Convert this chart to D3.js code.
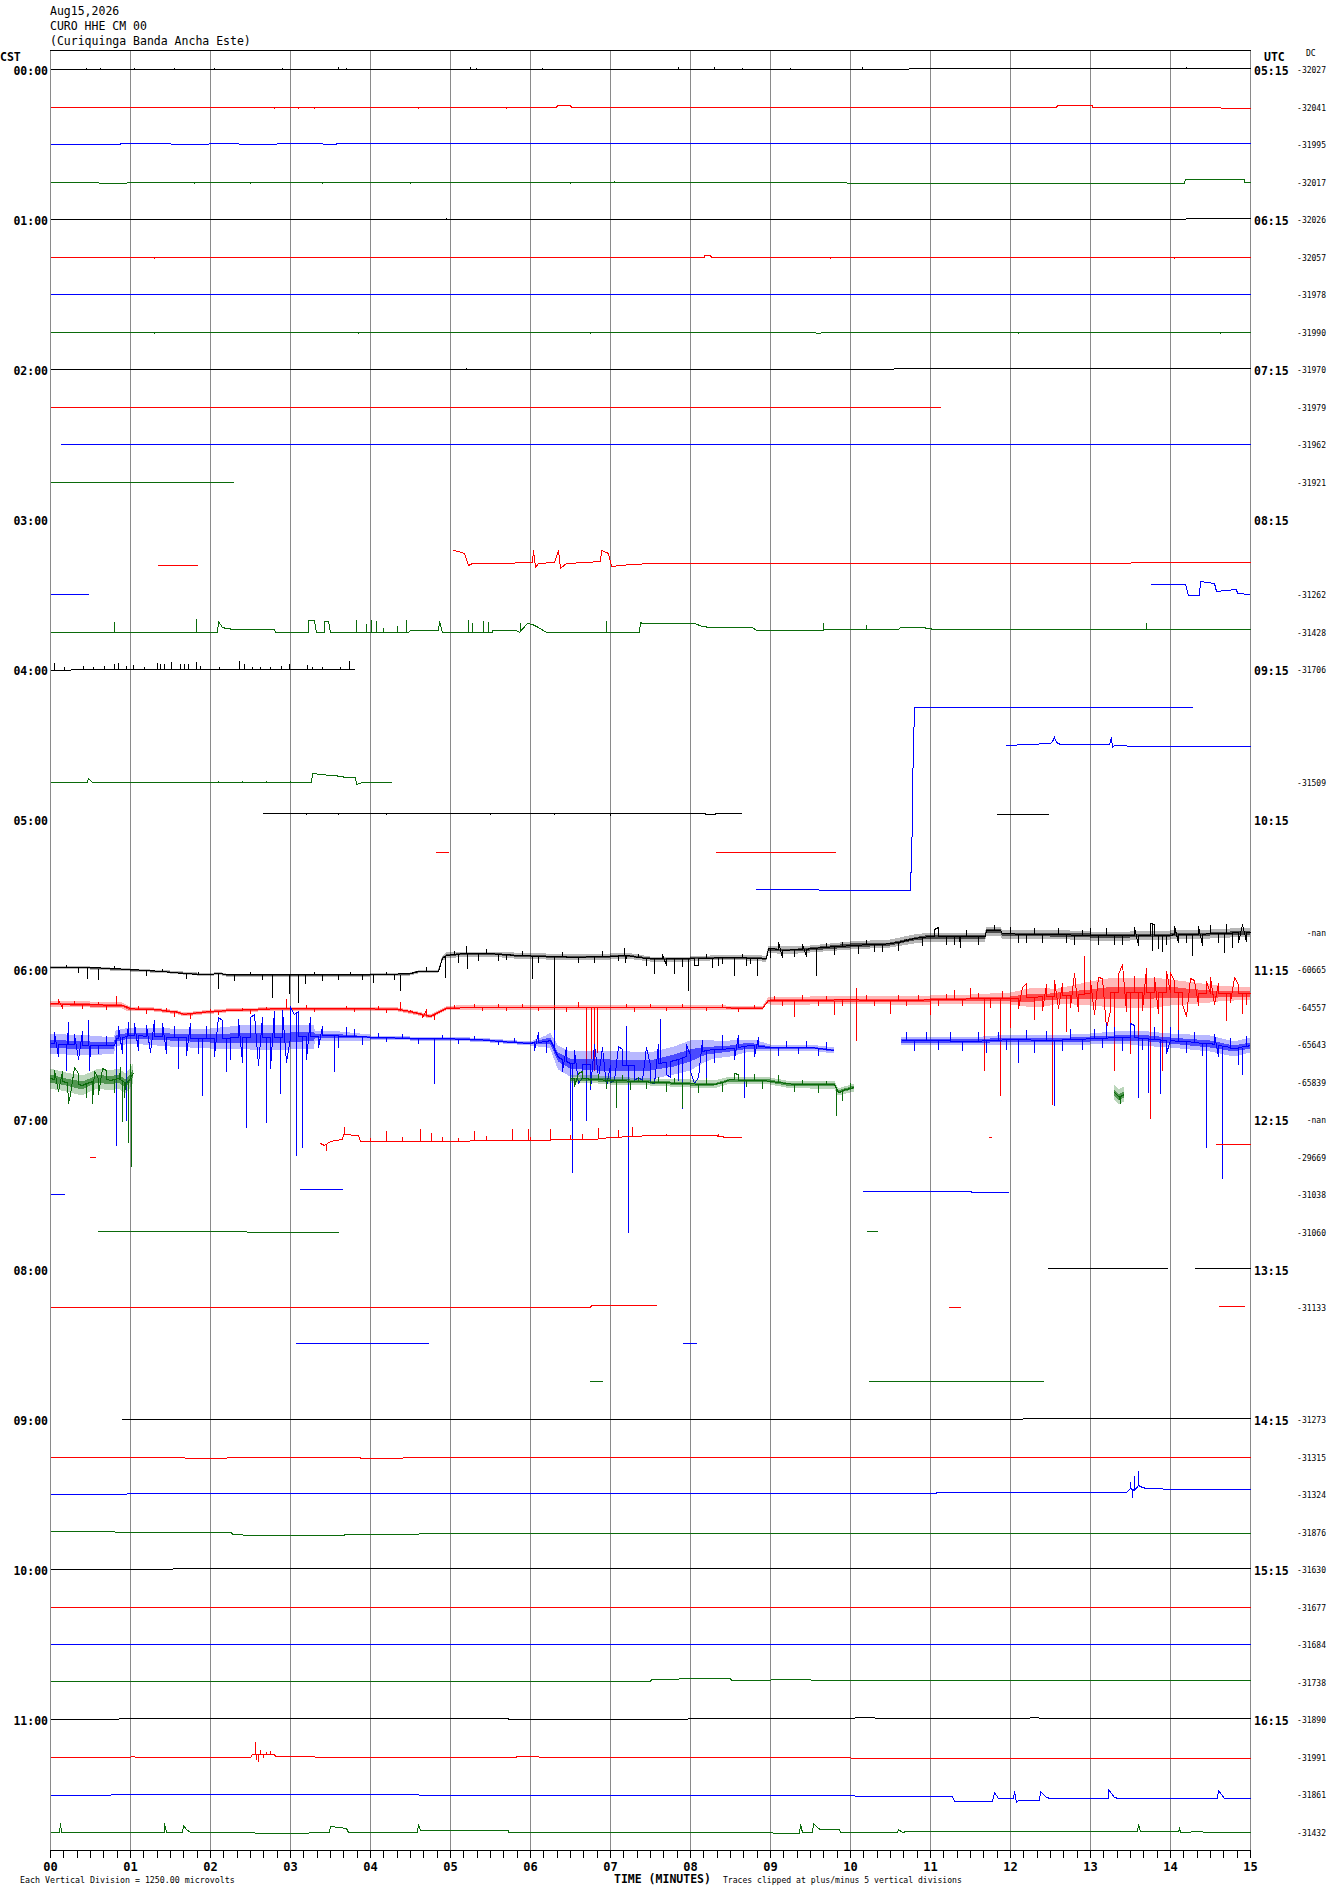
<!DOCTYPE html>
<html><head><meta charset="utf-8">
<script src="https://cdn.jsdelivr.net/npm/d3@7"></script>
<style>body{margin:0;background:#fff}svg{display:block}</style>
</head><body><svg id="c" width="1330" height="1894"></svg>
<script>
// ---------------- DATA (time in minutes, amplitude in microvolts relative to each row) ----------------
const headerLines = ["Aug15,2026", "CURO HHE CM 00", "(Curiquinga Banda Ancha Este)"];
const cstLabels = ["00:00","01:00","02:00","03:00","04:00","05:00","06:00","07:00","08:00","09:00","10:00","11:00"];
const utcLabels = ["05:15","06:15","07:15","08:15","09:15","10:15","11:15","12:15","13:15","14:15","15:15","16:15"];
const dcLabels = ["-32027","-32041","-31995","-32017","-32026","-32057","-31978","-31990","-31970","-31979","-31962","-31921",
  "","","-31262","-31428","-31706","","","-31509","","","","-nan",
  "-60665","-64557","-65643","-65839","-nan","-29669","-31038","-31060","","-31133","","",
  "-31273","-31315","-31324","-31876","-31630","-31677","-31684","-31738","-31890","-31991","-31861","-31432"];
const minuteLabels = ["00","01","02","03","04","05","06","07","08","09","10","11","12","13","14","15"];
const footLeft = "Each Vertical Division = 1250.00 microvolts";
const footMid = "TIME (MINUTES)";
const footRight = "Traces clipped at plus/minus 5 vertical divisions";

// traces: list of segments, each a list of [minute, microvolts]
const r00 = [[[0,0],[10.73,0],[10.74,23],[15,23]]];
const r01 = [[[0,0],[6.33,0],[6.34,60],[6.5,60],[6.51,0],[12.58,0],[12.59,60],[13.02,60],[13.03,0],[14.63,0],[14.64,-40],[15,-40]]];
const r02 = [[[0,-10],[0.87,-10],[0.88,25],[1.5,25],[1.51,-10],[1.98,-10],[1.99,25],[2.35,25],[2.36,-10],[2.83,-10],[2.84,25],[3.4,25],[3.41,-10],[3.57,-10],[3.58,25],[15,25]]];
const r03 = [[[0,0],[0.6,0],[0.61,-35],[0.95,-35],[0.96,0],[9.95,0],[9.96,-35],[14.18,-35],[14.19,73],[14.92,73],[14.93,0],[15,0]]];
const r04 = [[[0,0],[14.19,0],[14.2,25],[15,25]]];
const r05 = [[[0,0],[6.01,0],[6.02,-27],[7.57,-27],[7.58,0],[8.17,0],[8.18,60],[8.25,60],[8.26,0],[15,0]]];
const r06 = [[[0,0],[15,0]]];
const r07 = [[[0,0],[9.56,0],[9.57,-35],[9.63,-35],[9.64,0],[15,0]]];
const r08 = [[[0,-10],[10.54,-10],[10.55,23],[15,23]]];
const r09 = [[[0,0],[11.12,0]]];
const r10 = [[[0.12,0],[14.0,0],[14.01,-10],[15,-10]]];
const r11 = [[[0,0],[2.29,0]]];
const r12 = [];
const r13 = [[[1.34,-290],[1.84,-290]],
  [[5.04,217],[5.1,180],[5.18,107],[5.22,-283],[5.28,-227],[5.6,-227],[6.03,-173],[6.04,217],[6.06,-340],[6.1,-227],[6.3,-173],[6.35,217],[6.37,-393],[6.45,-227],[6.7,-173],[6.88,-150],[6.89,217],[6.95,160],[6.98,127],[7.01,-317],[7.25,-250],[7.55,-227],[13.5,-227],[13.51,-193],[15,-193]]];
const r14 = [[[0,-10],[0.48,-10]],
  [[13.75,323],[14.19,323],[14.22,-33],[14.36,-33],[14.38,443],[14.55,377],[14.57,110],[14.82,157],[14.84,23],[15,0]]];
const r15 = [[[0,0],[2.09,0],[2.1,350],[2.15,150],[2.2,107],[2.3,80],[2.8,80],[2.81,0],[3.22,0],[3.23,370],[3.3,370],[3.32,0],[3.42,0],[3.43,360],[3.48,360],[3.5,0],[4.48,0],[4.5,50],[4.85,50],[4.86,360],[4.9,-25],[5.0,0],[5.52,0],[5.53,50],[5.82,50],[5.86,0],[5.96,293],[6.03,250],[6.1,150],[6.2,0],[7.36,0],[7.37,327],[7.4,300],[8.05,300],[8.15,183],[8.25,160],[8.78,160],[8.83,50],[9.61,50],[9.71,70],[10.6,70],[10.63,140],[10.88,140],[10.9,160],[11.05,70],[15,70]]];
const r16 = [[[0,-33],[0.25,-33],[0.26,0],[3.8,0]]];
const r17 = [];
const r18 = [[[11.95,-33],[12.5,23],[12.53,100],[12.55,223],[12.58,80],[12.62,0],[13.24,0],[13.26,223],[13.28,-90],[13.3,-40],[13.45,-40],[13.46,-77],[15,-77]]];
const r19 = [[[0,0],[0.46,0],[0.48,107],[0.52,0],[3.26,0],[3.27,273],[3.5,217],[3.55,217],[3.7,160],[3.81,160],[3.82,-93],[3.9,-27],[4.26,-27]]];
const r20 = [[[2.65,190],[8.18,190],[8.2,157],[8.3,157],[8.32,190],[8.64,190]],[[11.83,180],[12.48,180]]];
const r21 = [[[4.81,160],[4.97,160]],[[8.31,150],[9.81,150]]];
const r22 = [[[8.81,157],[9.6,157],[9.61,133],[10.75,133],[10.77,2500],[10.78,3500],[10.8,6250],[14.27,6250]]];
const r23 = [];
const r24 = [[[0,77],[0.5,57],[1.0,-10],[1.5,-90],[2.0,-177],[2.1,-120],[2.2,-177],[3.0,-177],[3.5,-167],[4.0,-177],[4.5,-143],[4.6,-67],[4.85,-57],[4.9,357],[4.95,467],[5.2,523],[5.5,523],[5.8,467],[6.2,433],[6.5,410],[7.0,433],[7.2,467],[7.5,357],[8.0,357],[8.5,410],[8.95,357],[8.98,690],[9.2,633],[9.5,690],[10.0,800],[10.5,857],[10.8,1023],[11.0,1100],[11.5,1100],[11.69,1100],[11.7,1300],[11.88,1300],[11.9,1190],[12.5,1167],[13.0,1133],[13.5,1133],[14.0,1150],[14.5,1190],[15.0,1243]]];
const r25 = [[[0,107],[0.5,73],[0.9,50],[1.0,-60],[1.3,-93],[1.6,-173],[1.68,-250],[1.9,-173],[2.2,-117],[2.6,-83],[2.8,-60],[3.0,-40],[3.5,-60],[4.0,-60],[4.35,-93],[4.6,-207],[4.75,-317],[4.85,-173],[4.95,-60],[5.2,0],[6.0,0],[7.0,-33],[8.0,0],[8.9,-60],[8.97,217],[9.5,217],[10.0,240],[10.5,217],[11.0,240],[11.5,273],[12.0,273],[12.5,350],[13.0,440],[13.5,493],[14.0,493],[14.5,440],[15.0,440]]];
const r26 = [[[0,23],[0.2,0],[0.5,-33],[0.8,-33],[0.82,200],[1.0,300],[1.5,243],[2.0,190],[2.5,243],[3.0,243],[3.5,300],[4.0,243],[4.5,190],[5.0,190],[5.5,133],[6.0,43],[6.25,133],[6.35,-423],[6.5,-643],[7.0,-700],[7.5,-700],[7.8,-533],[8.0,-367],[8.2,-200],[8.5,-143],[8.75,-33],[9.0,-90],[9.5,-90],[9.8,-200]],
  [[10.64,133],[11.0,133],[11.5,100],[12.0,170],[12.5,133],[13.0,190],[13.5,243],[14.0,133],[14.5,23],[14.8,-143],[15.0,-33]]];
const r27 = [[[0,107],[0.2,0],[0.4,-117],[0.5,0],[0.6,107],[0.75,50],[0.85,107],[0.95,-60],[1.04,273]],
  [[6.5,107],[6.7,107],[7.0,50],[7.5,0],[8.0,-60],[8.3,-83],[8.5,73],[9.0,30],[9.2,-60],[9.5,-83],[9.8,-83],[9.85,-340],[10.05,-173]],
  [[13.3,-340],[13.36,-500],[13.42,-400]]];
const r28 = [];
const r29 = [[[0.49,0],[0.56,0]],
  [[3.38,440],[3.42,383],[3.5,517],[3.65,583],[3.66,750],[3.85,717],[3.88,527],[4.5,527],[5.0,517],[5.5,550],[6.0,550],[6.5,573],[6.8,590],[7.0,660],[7.3,680],[7.5,717],[8.0,717],[8.3,705],[8.45,660],[8.64,660]],
  [[11.73,660],[11.76,660]],[[14.56,407],[15,407]]];
const r30 = [[[0,0],[0.17,0]],[[3.11,177],[3.65,177]],[[10.15,110],[11.5,110],[11.52,67],[11.98,67]]];
const r31 = [[[0.59,0],[2.45,0],[2.46,-27],[3.6,-27]],[[10.2,0],[10.34,0]]];
const r32 = [[[12.46,23],[13.96,23]],[[14.3,33],[15,33]]];
const r33 = [[[0,0],[6.75,0],[6.76,40],[7.57,40]],[[11.22,0],[11.38,0]],[[14.6,20],[14.92,20]]];
const r34 = [[[3.06,23],[4.72,23]],[[7.9,23],[8.07,23]]];
const r35 = [[[6.74,17],[6.9,17]],[[10.23,33],[12.41,33]]];
const r36 = [[[0.89,0],[12.15,0],[12.16,23],[15,23]]];
const r37 = [[[0,0],[1.68,0],[1.69,-40],[2.2,-40],[2.21,0],[3.87,0],[3.88,-40],[4.4,-40],[4.41,0],[15,0]]];
const r38 = [[[0,-10],[0.95,-10],[0.96,23],[11.07,23],[11.08,57],[13.45,57],[13.5,200],[13.55,150],[13.6,300],[13.65,250],[13.7,190],[13.9,190],[13.91,167],[15,167]]];
const r39 = [[[0,17],[0.8,17],[0.81,-27],[2.26,-27],[2.27,-83],[2.4,-83],[2.41,-100],[3.67,-100],[3.68,-83],[4.6,-83],[4.61,-60],[15,-60]]];
const r40 = [[[0,0],[1.53,0],[1.54,23],[15,23]]];
const r41 = [[[0,0],[6.84,0],[6.85,-27],[8.0,-27],[8.01,0],[15,0]]];
const r42 = [[[0,-10],[0.85,-10],[0.86,10],[1.82,10],[1.83,-10],[1.97,-10],[1.98,10],[4.55,10],[4.56,-10],[4.75,-10],[4.76,10],[15,10]]];
const r43 = [[[0,7],[7.18,7],[7.19,27],[7.5,27],[7.51,83],[7.85,83],[7.86,127],[8.5,127],[8.51,50],[9.0,50],[9.01,83],[9.5,83],[9.51,50],[15,50]]];
const r44 = [[[0,-10],[0.85,-10],[0.86,23],[5.72,23],[5.73,-10],[7.96,-10],[7.97,23],[10.05,23],[10.06,57],[10.3,57],[10.31,23],[12.24,23],[12.25,57],[12.35,57],[12.36,23],[15,23]]];
const r45 = [[[0,0],[1.0,0],[1.01,27],[1.05,27],[1.06,0],[2.5,0],[2.52,100],[2.8,100],[2.81,7],[3.3,7],[3.31,-27],[5.82,-27],[5.83,20],[6.1,20],[6.11,-27],[10.0,-27],[10.01,-50],[15,-50]]];
const r46 = [[[0,-23],[0.75,-23],[0.76,10],[4.6,10],[4.61,-23],[10.05,-23],[10.06,-57],[11.27,-57],[11.3,-243],[11.78,-243],[11.8,77],[11.85,-143],[12.04,-143],[12.05,110],[12.07,-277],[12.1,-200],[12.36,-200],[12.37,110],[12.45,-90],[12.5,-143],[13.22,-143],[13.23,167],[13.3,-90],[13.35,-143],[14.59,-143],[14.6,133],[14.68,-143],[15,-143]]];
const r47 = [[[0,0],[0.11,0],[0.12,273],[0.14,0],[1.42,0],[1.43,273],[1.45,0],[1.65,0],[1.66,217],[1.7,80],[1.75,0],[2.0,0],[2.01,-27],[2.55,-27],[2.56,-60],[3.23,-60],[3.24,-7],[3.49,-7],[3.5,193],[3.6,150],[3.7,107],[3.72,-7],[4.59,-7],[4.6,250],[4.62,50],[5.72,50],[5.73,-7],[6.98,-7],[6.99,-27],[9.03,-27],[9.04,-60],[9.36,-60],[9.37,250],[9.4,-30],[9.53,-30],[9.54,273],[9.6,107],[9.62,73],[9.86,73],[9.87,-7],[10.59,-7],[10.6,73],[10.65,-7],[10.7,10],[13.59,10],[13.6,250],[13.63,27],[14.1,27],[14.11,107],[14.13,-7],[14.25,-7],[14.26,27],[14.4,27],[14.41,-7],[15,-7]]];

// spikes / oscillation peaks: [minute, peak microvolts]
const s00 = [[0.45,80],[0.62,60],[1.05,70],[1.55,60],[2.05,70],[2.9,70],[3.6,90],[3.7,80],[5.25,90],[5.32,70],[6.15,70],[7.85,100],[8.3,90],[8.65,60],[9.25,70],[10.15,90],[13.75,80],[14.2,100],[14.3,80]];
const s01 = [[2.8,-50],[3.1,-50],[3.3,-40],[4.6,-40],[5.7,-40]];
const s03 = [[7.05,60],[1.8,-40],[2.5,-40],[3.4,-40],[4.5,-40],[6.5,-40],[12.2,-40]];
const s04 = [[0.05,30],[0.65,30],[4.6,40],[4.95,60]];
const s05 = [[1.3,-40],[9.75,-40],[14.05,-40]];
const s06 = [[0.1,40],[1.0,40],[2.3,40],[3.8,40],[4.5,40],[6.2,40],[7.5,40],[8.0,40],[9.5,40],[10.7,30],[12.0,30],[13.2,40],[14.6,40]];
const s07 = [[1.3,-40],[3.85,-40],[6.75,-40],[12.1,-40],[14.62,-40]];
const s08 = [[0.1,40],[0.7,30],[4.9,40],[5.2,80]];
const s10 = [[0.3,30],[1.0,30],[1.5,30],[2.0,30],[3.2,30],[4.3,30],[5.5,30],[6.3,30],[7.2,30],[8.6,30],[10.3,30],[11.2,30],[12.8,30],[13.5,30]];
const s13 = [[1.5,-250],[1.7,-250],[9.5,-190],[11.6,-190]];
const s15 = [[0.8,350],[1.82,460],[3.82,407],[3.95,273],[4.01,407],[4.08,383],[4.16,160],[4.34,217],[4.45,417],[5.23,407],[5.28,327],[5.41,383],[5.47,360],[5.88,327],[6.95,383],[9.66,307],[10.2,240],[13.7,327]];
const s16 = [[0.05,243],[0.17,110],[0.41,133],[0.54,110],[0.67,133],[0.8,190],[0.85,243],[0.95,133],[1.04,157],[1.17,110],[1.34,243],[1.38,210],[1.43,190],[1.51,267],[1.63,210],[1.68,190],[1.73,210],[1.82,267],[1.87,133],[2.11,110],[2.36,300],[2.43,210],[2.52,110],[2.63,110],[2.75,110],[2.89,133],[2.99,190],[3.21,157],[3.28,110],[3.4,110],[3.62,110],[3.74,300]];
const s19 = [[2.1,50],[2.4,50],[2.7,50],[3.0,40]];
const s20 = [[3.2,160],[3.6,160],[4.2,160],[5.5,160],[6.3,160],[7.0,150]];
const s24 = [[0.2,180],[0.35,-100],[0.46,-310],[0.6,-343],[0.8,150],[1.2,-200],[1.4,50],[1.7,-300],[1.85,-50],[2.1,-643],[2.3,-350],[2.5,-60],[2.65,-320],[2.78,-923],[2.99,-810],[3.1,-1090],[3.19,-477],[3.3,-50],[3.4,-350],[3.6,-330],[3.75,-60],[3.9,-330],[4.04,-423],[4.2,-50],[4.3,-330],[4.37,-700],[4.7,100],[4.94,-257],[5.05,650],[5.1,250],[5.2,800],[5.21,23],[5.35,300],[5.45,700],[5.6,300],[5.7,320],[5.9,650],[6.03,-310],[6.1,250],[6.3,-2700],[6.4,600],[6.6,250],[6.8,250],[6.9,620],[7.1,300],[7.18,743],[7.19,243],[7.35,550],[7.45,150],[7.55,-143],[7.65,500],[7.7,150],[7.8,-143],[7.9,100],[7.98,-700],[8.05,150],[8.1,150],[8.2,550],[8.27,77],[8.35,150],[8.4,200],[8.55,-200],[8.65,550],[8.7,150],[8.75,200],[8.84,-200],[9.0,400],[9.1,900],[9.15,400],[9.3,450],[9.4,850],[9.45,450],[9.57,-200],[9.7,900],[9.8,500],[9.9,950],[10.1,550],[10.2,1000],[10.3,600],[10.4,600],[10.6,650],[10.7,1050],[10.9,800],[11.05,1350],[11.1,1400],[11.2,850],[11.3,850],[11.37,743],[11.45,1350],[11.6,850],[11.8,1500],[12.0,1450],[12.1,900],[12.2,900],[12.3,1400],[12.4,900],[12.6,1400],[12.7,900],[12.8,850],[12.9,1350],[13.0,1400],[13.1,850],[13.2,1400],[13.3,850],[13.4,850],[13.55,1400],[13.6,800],[13.75,1523],[13.77,633],[13.8,1500],[13.85,690],[13.9,600],[13.95,850],[14.05,1450],[14.1,900],[14.2,900],[14.28,467],[14.35,1450],[14.4,800],[14.5,1500],[14.6,900],[14.67,577],[14.7,1523],[14.78,743],[14.85,900],[14.9,1500],[14.95,950]];
const s25 = [[0.1,250],[0.15,-50],[0.3,230],[0.4,-60],[0.6,200],[0.7,-80],[0.82,383],[1.1,50],[1.2,-200],[1.45,-10],[1.55,-300],[1.75,-380],[2.0,-50],[2.1,-250],[2.4,0],[2.5,-200],[2.7,30],[2.95,273],[3.2,70],[3.3,-150],[3.7,50],[3.8,-160],[4.1,40],[4.2,-170],[4.37,200],[4.5,-80],[4.65,-350],[4.7,-120],[4.8,-400],[5.05,100],[5.3,120],[5.4,-100],[5.6,110],[5.7,-100],[5.9,120],[6.1,-120],[6.3,100],[6.45,-150],[6.6,173],[6.7,-2100],[6.76,-1700],[6.8,-2117],[6.84,-1500],[7.2,120],[7.3,-150],[7.5,110],[7.7,-130],[7.9,120],[8.2,-120],[8.4,110],[8.6,-140],[8.8,80],[9.05,400],[9.15,50],[9.3,-300],[9.4,420],[9.6,60],[9.7,400],[9.8,-250],[9.9,50],[10.07,660],[10.08,-1117],[10.2,420],[10.3,60],[10.5,-200],[10.6,430],[10.7,50],[10.85,420],[11.0,-250],[11.1,50],[11.2,450],[11.3,600],[11.4,50],[11.5,650],[11.6,500],[11.68,-2100],[11.75,0],[11.87,-2950],[11.9,550],[12.0,-673],[12.1,-50],[12.15,650],[12.2,800],[12.3,-400],[12.4,-100],[12.45,750],[12.52,-3250],[12.55,883],[12.6,-50],[12.65,800],[12.7,-800],[12.75,0],[12.8,1107],[12.85,-150],[12.93,1717],[13.0,900],[13.05,-250],[13.1,1000],[13.15,950],[13.2,-700],[13.25,-100],[13.3,-2117],[13.35,1100],[13.4,1417],[13.45,-150],[13.5,-1550],[13.55,1050],[13.6,-1200],[13.65,-100],[13.7,1300],[13.75,-3727],[13.8,1000],[13.85,-200],[13.9,-2117],[13.95,1200],[14.0,1107],[14.05,900],[14.1,-900],[14.15,100],[14.2,-300],[14.25,950],[14.3,900],[14.35,50],[14.45,850],[14.5,1000],[14.55,100],[14.6,800],[14.7,-450],[14.75,150],[14.8,1000],[14.85,750],[14.9,-200],[14.95,100]];
const s26 = [[0.05,400],[0.1,-400],[0.2,-867],[0.22,720],[0.3,350],[0.35,-500],[0.4,450],[0.48,800],[0.49,-867],[0.6,-300],[0.7,300],[0.83,-3367],[0.85,600],[0.9,-300],[0.95,-2530],[0.97,720],[1.05,700],[1.1,-200],[1.2,650],[1.25,-250],[1.3,800],[1.4,700],[1.45,-300],[1.55,650],[1.6,-800],[1.7,-350],[1.75,700],[1.85,-300],[1.9,-1700],[1.95,650],[2.05,-400],[2.1,900],[2.15,800],[2.2,-900],[2.25,-500],[2.35,850],[2.4,-600],[2.45,-2757],[2.5,900],[2.55,1000],[2.6,-700],[2.65,900],[2.7,-2590],[2.75,-800],[2.8,1100],[2.88,-1643],[2.9,1133],[2.95,-600],[3.0,1243],[3.05,1000],[3.08,-3700],[3.1,1100],[3.15,-3430],[3.2,-500],[3.25,900],[3.35,-100],[3.4,600],[3.55,-900],[3.6,-100],[3.7,600],[3.8,550],[3.9,0],[4.1,400],[4.2,100],[4.4,380],[4.6,50],[4.8,-1310],[4.9,350],[5.1,50],[5.3,300],[5.6,0],[5.8,250],[6.05,-200],[6.1,400],[6.2,-250],[6.3,500],[6.4,-900],[6.45,-100],[6.5,-2530],[6.52,-4257],[6.55,-200],[6.6,-1300],[6.65,-1100],[6.7,-2530],[6.75,-1500],[6.8,0],[6.85,-1100],[6.9,-100],[6.95,-1400],[7.0,-1250],[7.05,-1200],[7.1,-50],[7.15,-150],[7.2,633],[7.23,-6250],[7.3,-1200],[7.35,-1100],[7.4,-1200],[7.45,-100],[7.5,-1250],[7.55,-1300],[7.6,0],[7.63,857],[7.7,-1000],[7.75,-1100],[7.85,-1200],[7.9,-2140],[7.95,0],[8.0,-900],[8.05,-1300],[8.1,-1100],[8.15,150],[8.2,-1200],[8.3,-600],[8.4,350],[8.55,-500],[8.6,300],[8.67,-1757],[8.8,-400],[8.85,250],[9.1,-350],[9.2,150],[9.35,-300],[9.45,150],[9.6,-350],[9.7,100],[10.7,450],[10.8,-200],[10.95,420],[11.1,-150],[11.25,450],[11.4,-200],[11.6,430],[11.7,-250],[11.85,450],[11.95,-150],[12.1,-600],[12.2,500],[12.3,-250],[12.45,480],[12.55,-2033],[12.65,-200],[12.75,520],[12.9,-150],[13.05,550],[13.15,-100],[13.2,743],[13.3,600],[13.4,-200],[13.5,700],[13.55,650],[13.6,-1757],[13.65,-150],[13.73,-1600],[13.8,600],[13.88,-1643],[13.95,-300],[14.0,600],[14.1,500],[14.2,-250],[14.3,450],[14.4,-350],[14.45,-3423],[14.55,350],[14.6,-400],[14.65,-4477],[14.75,250],[14.85,-650],[14.9,-1000],[14.95,300]];
const s27 = [[0.05,400],[0.1,-300],[0.15,350],[0.22,-727],[0.25,-400],[0.3,500],[0.35,300],[0.45,-500],[0.53,-727],[0.55,350],[0.6,-400],[0.65,450],[0.7,400],[0.8,-350],[0.87,500],[0.9,-1300],[0.93,-500],[0.98,-2000],[1.0,607],[1.01,-2817],[6.55,-150],[6.6,300],[6.65,350],[6.75,-100],[6.85,300],[6.95,-200],[7.07,-840],[7.15,250],[7.25,-250],[7.35,200],[7.45,-200],[7.6,200],[7.7,-300],[7.8,150],[7.9,-840],[8.1,-350],[8.2,150],[8.4,-300],[8.55,300],[8.6,250],[8.7,-150],[8.8,300],[8.9,-200],[9.1,250],[9.3,-300],[9.4,100],[9.6,-350],[9.7,50],[9.82,-1117],[9.9,-600],[10.0,0],[13.37,-727]];
const s29 = [[3.45,230],[3.68,1017],[4.0,650],[4.2,900],[4.4,680],[4.62,940],[4.76,830],[4.9,700],[5.1,650],[5.3,900],[5.45,717],[5.77,940],[5.97,940],[6.0,700],[6.25,940],[6.5,750],[6.65,800],[6.85,993],[7.1,920],[7.27,1017],[7.7,800],[8.35,780]];
const s38 = [[13.5,420],[13.52,-100],[13.55,630],[13.6,800]];
const s45 = [[2.56,517],[2.58,-93],[2.6,-150],[2.62,240],[2.66,0],[2.7,193],[2.75,217]];

// noise envelopes: [minute, half-amplitude microvolts]
const e24 = [[0,50],[4.88,50],[4.9,90],[8.9,90],[8.98,120],[10,130],[11,150],[15,150]];
const e25 = [[0,100],[0.98,100],[1.0,70],[8.95,70],[9.0,120],[11.5,150],[12.0,200],[12.3,330],[12.6,260],[13.0,400],[13.3,500],[13.8,500],[14.2,380],[14.6,270],[15,200]];
const e26 = [[0,330],[0.5,330],[0.8,270],[2.0,330],[2.5,420],[3.3,400],[3.31,170],[4.0,100],[4.01,70],[6.0,70],[6.2,200],[6.35,400],[7.0,500],[7.5,450],[8.0,500],[8.3,300],[8.8,200],[9.0,100],[9.8,100],[10.64,130],[12,160],[13.3,200],[13.6,260],[14.0,230],[14.5,270],[15,250]];
const e27 = [[0,330],[1.04,330],[6.5,130],[8.0,130],[9.0,110],[10.05,130],[13.3,250],[13.42,250]];

const traces = [r00,r01,r02,r03,r04,r05,r06,r07,r08,r09,r10,r11,r12,r13,r14,r15,r16,r17,r18,r19,r20,r21,r22,r23,
                r24,r25,r26,r27,r28,r29,r30,r31,r32,r33,r34,r35,r36,r37,r38,r39,r40,r41,r42,r43,r44,r45,r46,r47];
const spikes = {0:s00,1:s01,3:s03,4:s04,5:s05,6:s06,7:s07,8:s08,10:s10,13:s13,15:s15,16:s16,19:s19,20:s20,24:s24,25:s25,26:s26,27:s27,29:s29,38:s38,45:s45};
const envelopes = {24:e24,25:e25,26:e26,27:e27};

// ---------------- DRAWING ----------------
const colors = ["#000000","#ff0000","#0000ff","#0b6b0b"];
const mono = "'DejaVu Sans Mono', 'Liberation Mono', monospace";
const svg = d3.select("#c");
const x = d3.scaleLinear().domain([0,15]).range([50,1250]);
const rowY = d3.scaleLinear().domain([0,47]).range([69,1831.5]);
const amp = d3.scaleLinear().domain([-6250,6250]).range([187.5,-187.5]).clamp(true);
const X = t => Math.round(x(t)) + 0.5;
const Y = (row, v) => Math.round(rowY(row) + amp(v)) + 0.5;

// grid
const grid = svg.append("g").attr("shape-rendering", "crispEdges");
grid.selectAll("line").data(d3.range(0,16)).join("line")
  .attr("x1", d => X(d)).attr("x2", d => X(d)).attr("y1", 50).attr("y2", 1850)
  .attr("stroke", "#8a8a8a").attr("stroke-width", 1);
grid.append("line").attr("x1", x(0)).attr("x2", x(15)+1).attr("y1", 50.5).attr("y2", 50.5).attr("stroke", "#000");

function interp(pts, t) {
  if (t < pts[0][0] || t > pts[pts.length-1][0]) return null;
  for (let i = 1; i < pts.length; i++) {
    if (t <= pts[i][0]) {
      const a = pts[i-1], b = pts[i];
      const f = b[0] === a[0] ? 0 : (t - a[0]) / (b[0] - a[0]);
      return a[1] + f * (b[1] - a[1]);
    }
  }
  return pts[pts.length-1][1];
}
function valueAt(segs, t) {
  for (const s of segs) { const v = interp(s, t); if (v !== null) return v; }
  return null;
}
// merge oscillation peaks into a segment as a connected waveform; large spikes stay thin
function waveform(seg, peaks, env) {
  const t0 = seg[0][0], t1 = seg[seg.length-1][0];
  const isBig = p => Math.abs(p[1] - interp(seg, p[0])) > 2.6 * (interp(env, p[0]) || 100);
  const pk = peaks.filter(p => p[0] > t0 && p[0] < t1).sort((a, b) => a[0] - b[0]);
  const osc = pk.filter(p => !isBig(p));
  const items = [...seg.map(p => ({t: p[0], v: p[1], base: true})), ...osc.map(p => ({t: p[0], v: p[1], base: false}))]
    .sort((a, b) => a.t - b.t || (a.base ? -1 : 1));
  const out = [];
  items.forEach((it, i) => {
    if (it.base) { out.push([it.t, it.v]); return; }
    const prev = items.slice(0, i).reverse().find(d => !d.base);
    const next = items.slice(i + 1).find(d => !d.base);
    if (!prev || it.t - prev.t > 0.06) out.push([it.t - 0.004, interp(seg, it.t - 0.004)]);
    out.push([it.t, it.v]);
    if (!next || next.t - it.t > 0.06) out.push([it.t + 0.004, interp(seg, it.t + 0.004)]);
  });
  out.sort((a, b) => a[0] - b[0]);
  const big = pk.filter(isBig).map(p => [p[0], interp(out, p[0]), p[1]]);
  return {line: out, big};
}

const gTr = svg.append("g").attr("shape-rendering", "crispEdges").attr("fill", "none");
traces.forEach((segs, row) => {
  const col = colors[row % 4];
  const g = gTr.append("g");
  const env = envelopes[row];
  const line = d3.line().x(d => X(d[0])).y(d => Y(row, d[1]));
  if (env) {
    segs.forEach(s => {
      const t0 = s[0][0], t1 = s[s.length-1][0];
      const ts = Array.from(new Set([...s.map(p => p[0]), ...env.map(p => p[0]).filter(t => t > t0 && t < t1)])).sort((a, b) => a - b);
      const pts = ts.map(t => [t, interp(s, t), interp(env, t) || 0]);
      g.append("path").datum(pts)
        .attr("d", d3.area().x(d => x(d[0])).y0(d => Y(row, d[1]-d[2])).y1(d => Y(row, d[1]+d[2])))
        .attr("fill", col).attr("fill-opacity", 0.28).attr("stroke", "none");
      g.append("path").datum(pts)
        .attr("d", d3.area().x(d => x(d[0])).y0(d => Y(row, d[1]-d[2]*0.4)).y1(d => Y(row, d[1]+d[2]*0.4)))
        .attr("fill", col).attr("fill-opacity", 0.6).attr("stroke", "none");
      const w = waveform(s, spikes[row] || [], env);
      g.append("path").datum(w.line).attr("d", line).attr("stroke", col).attr("stroke-width", 1);
      g.selectAll(null).data(w.big).join("line")
        .attr("x1", d => X(d[0])).attr("x2", d => X(d[0]))
        .attr("y1", d => Y(row, d[1])).attr("y2", d => Y(row, d[2]))
        .attr("stroke", col).attr("stroke-width", 1);
    });
    return;
  }
  g.selectAll("path.tr").data(segs).join("path").attr("class", "tr")
    .attr("d", line).attr("stroke", col).attr("stroke-width", 1);
  const sp = (spikes[row] || []).map(([t, v]) => [t, valueAt(segs, t), v]).filter(d => d[1] !== null);
  g.selectAll("line.sp").data(sp).join("line").attr("class", "sp")
    .attr("x1", d => X(d[0])).attr("x2", d => X(d[0]))
    .attr("y1", d => Y(row, d[1])).attr("y2", d => Y(row, d[2]))
    .attr("stroke", col).attr("stroke-width", 1);
});

// header
svg.append("g").selectAll("text").data(headerLines).join("text")
  .attr("x", 50).attr("y", (d, i) => 15 + i * 14.8)
  .attr("font-family", mono).attr("font-size", 11.5).text(d => d);

// side labels
svg.append("text").attr("x", 0).attr("y", 61).attr("font-family", mono).attr("font-weight", "bold").attr("font-size", 11.5).text("CST");
svg.append("text").attr("x", 1264).attr("y", 61).attr("font-family", mono).attr("font-weight", "bold").attr("font-size", 11.5).text("UTC");
svg.append("text").attr("x", 1306).attr("y", 56).attr("font-family", mono).attr("font-size", 8).text("DC");
svg.append("g").selectAll("text").data(cstLabels).join("text")
  .attr("x", 48).attr("y", (d, i) => rowY(i*4) + 6).attr("text-anchor", "end")
  .attr("font-family", mono).attr("font-weight", "bold").attr("font-size", 11.5).text(d => d);
svg.append("g").selectAll("text").data(utcLabels).join("text")
  .attr("x", 1254).attr("y", (d, i) => rowY(i*4) + 6)
  .attr("font-family", mono).attr("font-weight", "bold").attr("font-size", 11.5).text(d => d);
svg.append("g").selectAll("text").data(dcLabels).join("text")
  .attr("x", 1326).attr("y", (d, i) => rowY(i) + 4).attr("text-anchor", "end")
  .attr("font-family", mono).attr("font-size", 8).text(d => d);

// time axis
const ticks = d3.range(0, 91).map(i => i / 6);
const axis = d3.axisBottom(x).tickValues(ticks).tickSize(8).tickSizeOuter(0).tickPadding(4)
  .tickFormat(d => { const r = Math.round(d); return Math.abs(d - r) < 1e-6 ? minuteLabels[r] : ""; });
const ax = svg.append("g").attr("transform", "translate(0,1850)").attr("shape-rendering", "crispEdges").call(axis);
ax.select(".domain").attr("stroke", "#000").attr("stroke-width", 1.5);
ax.selectAll(".tick line").attr("stroke", "#000");
ax.selectAll(".tick text").attr("font-family", mono).attr("font-weight", "bold").attr("font-size", 12).attr("fill", "#000");

// footer
svg.append("text").attr("x", 20).attr("y", 1883).attr("font-family", mono).attr("font-size", 8.3).text(footLeft);
svg.append("text").attr("x", 614).attr("y", 1883).attr("font-family", mono).attr("font-weight", "bold").attr("font-size", 11.5).text(footMid);
svg.append("text").attr("x", 723).attr("y", 1883).attr("font-family", mono).attr("font-size", 8.1).text(footRight);
</script></body></html>
